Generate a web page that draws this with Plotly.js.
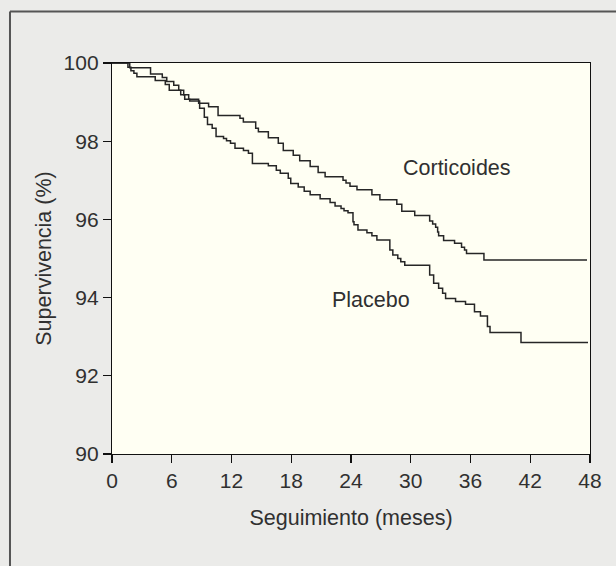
<!DOCTYPE html>
<html>
<head>
<meta charset="utf-8">
<script src="https://cdn.plot.ly/plotly-3.0.1.min.js"></script>
<style>
  html, body { margin: 0; padding: 0; background: #ebebe9; }
  #chart { width: 616px; height: 566px; }
</style>
</head>
<body>
<div id="chart"></div>
<script>
// Follow-up time (months) at each step, and survival (%) from that time on
const placeboMonths = [0, 1.6, 1.9, 2.2, 2.5, 4.34, 5.35, 5.75, 6.9, 7.3, 7.8, 8.8, 9.27, 9.59, 10.06,
  10.45, 11.2, 11.5, 11.9, 12.35, 13.2, 13.7, 14.1, 15.7, 16.5, 16.9, 17.7, 17.95, 18.7, 19.3,
  19.9, 20.9, 21.9, 22.4, 23.0, 23.3, 23.7, 24.2, 24.3, 24.7, 25.6, 26.1, 26.6, 27.9, 28.2,
  28.7, 29.0, 29.4, 31.9, 32.3, 32.8, 33.2, 33.5, 34.5, 35.5, 36.4, 37.0, 37.7, 37.96, 41.07, 47.8];
const placeboSurv = [100, 99.89, 99.80, 99.74, 99.65, 99.55, 99.45, 99.30, 99.19, 99.07, 99.03, 98.84, 98.61, 98.43, 98.33,
  98.12, 98.07, 98.01, 97.95, 97.82, 97.76, 97.69, 97.43, 97.37, 97.26, 97.18, 97.05, 96.92, 96.83, 96.72,
  96.63, 96.53, 96.43, 96.34, 96.28, 96.22, 96.17, 95.94, 95.86, 95.73, 95.66, 95.58, 95.47, 95.22, 95.09,
  95.0, 94.92, 94.83, 94.58, 94.37, 94.24, 94.11, 93.98, 93.90, 93.83, 93.64, 93.53, 93.26, 93.11, 92.85, 92.85];

const cortiMonths = [0, 1.78, 3.87, 5.05, 5.5, 6.2, 6.7, 7.2, 7.7, 8.7, 9.7, 10.65, 12.85, 13.19, 14.43,
  14.7, 15.7, 16.7, 17.2, 18.2, 18.85, 19.9, 20.7, 21.4, 23.2, 23.5, 23.9, 24.6, 26.1, 26.9,
  28.6, 29.1, 30.4, 31.9, 32.2, 32.5, 32.7, 32.8, 33.3, 34.4, 35.1, 35.4, 35.6, 37.35, 47.7];
const cortiSurv = [100, 99.88, 99.72, 99.63, 99.53, 99.43, 99.30, 99.19, 99.07, 98.97, 98.88, 98.66, 98.59, 98.49, 98.33,
  98.24, 98.09, 97.95, 97.76, 97.64, 97.50, 97.35, 97.20, 97.09, 97.0, 96.93, 96.85, 96.76, 96.63, 96.50,
  96.39, 96.21, 96.10, 95.96, 95.88, 95.80, 95.68, 95.58, 95.46, 95.39, 95.29, 95.22, 95.13, 94.96, 94.96];

const xTicks = [0, 6, 12, 18, 24, 30, 36, 42, 48];
const yTicks = [90, 92, 94, 96, 98, 100];

const seriesNames = ['Corticoides', 'Placebo'];
const labelPos = { 'Corticoides': [34.6, 97.32], 'Placebo': [26.0, 93.94] };

const FONT = 'Liberation Sans, Arial, Helvetica, sans-serif';
const TXT = '#303030';
const FS = 21.5;

const traces = [
  { x: cortiMonths, y: cortiSurv, name: seriesNames[0], type: 'scatter', mode: 'lines',
    line: { shape: 'hv', color: '#262626', width: 1.5 } },
  { x: placeboMonths, y: placeboSurv, name: seriesNames[1], type: 'scatter', mode: 'lines',
    line: { shape: 'hv', color: '#262626', width: 1.5 } }
];

const layout = {
  width: 616, height: 566,
  margin: { l: 112, r: 26, t: 63, b: 112 },
  paper_bgcolor: '#ebebe9',
  plot_bgcolor: '#fffff3',
  showlegend: false,
  font: { family: FONT, size: FS, color: TXT },
  xaxis: {
    range: [0, 48], tickvals: xTicks, ticktext: xTicks.map(String),
    showgrid: false, zeroline: false,
    showline: true, linecolor: '#111', linewidth: 1.2, mirror: true,
    ticks: 'outside', ticklen: 8, tickwidth: 1.2, tickcolor: '#111',
    tickfont: { family: FONT, size: 21, color: TXT },
    title: { text: 'Seguimiento (meses)', font: { family: FONT, size: FS, color: TXT }, standoff: 18 }
  },
  yaxis: {
    range: [90, 100], tickvals: yTicks, ticktext: yTicks.map(String),
    showgrid: false, zeroline: false,
    showline: true, linecolor: '#111', linewidth: 1.2, mirror: true,
    ticks: 'outside', ticklen: 8, tickwidth: 1.2, tickcolor: '#111',
    tickfont: { family: FONT, size: 21, color: TXT },
    title: { text: 'Supervivencia (%)', font: { family: FONT, size: FS, color: TXT }, standoff: 6 }
  },
  annotations: seriesNames.map(n => ({
    x: labelPos[n][0], y: labelPos[n][1], xref: 'x', yref: 'y',
    text: n, showarrow: false, xanchor: 'center', yanchor: 'middle',
    font: { family: FONT, size: FS, color: TXT }
  })),
  shapes: [
    { type: 'line', xref: 'paper', yref: 'paper', x0: -0.2134, x1: 1.06, y0: 1.1317, y1: 1.1317,
      line: { color: '#555', width: 2 } },
    { type: 'line', xref: 'paper', yref: 'paper', x0: -0.2134, x1: -0.2134, y0: 1.1317, y1: -0.3,
      line: { color: '#555', width: 2 } }
  ]
};

Plotly.newPlot('chart', traces, layout, { displayModeBar: false, staticPlot: true });
</script>
</body>
</html>
